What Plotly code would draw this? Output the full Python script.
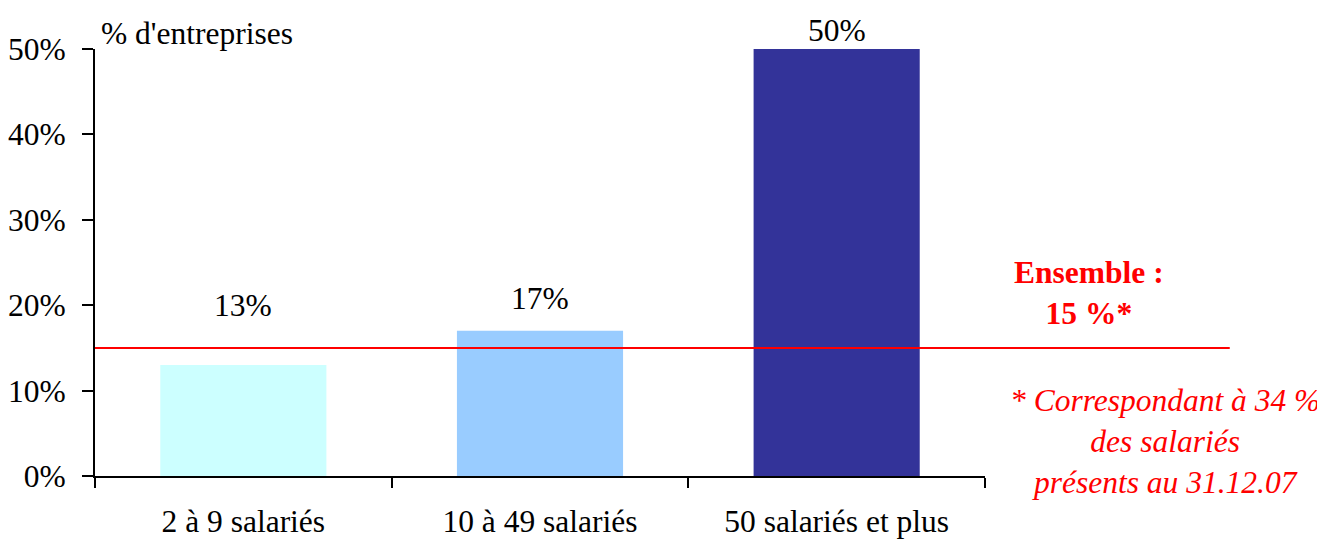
import plotly.graph_objects as go

categories = ["2 à 9 salariés", "10 à 49 salariés", "50 salariés et plus"]
values = [13, 17, 50]
bar_colors = ["#CCFFFF", "#99CCFF", "#333399"]
label_shift = [59, 32, 19]
ensemble = 15
y_ticks = [0, 10, 20, 30, 40, 50]
y_tick_labels = ["0%", "10%", "20%", "30%", "40%", "50%"]

FONT = "Liberation Serif, Times New Roman, serif"
FS = 31.5

fig = go.Figure()
fig.add_trace(go.Bar(
    x=categories, y=values, marker=dict(color=bar_colors, line=dict(width=0)),
    hoverinfo="skip", showlegend=False,
))

for c, v, s in zip(categories, values, label_shift):
    fig.add_annotation(x=c, y=v, text=f"{v}%", showarrow=False, yanchor="middle",
                       xanchor="center", yshift=s,
                       font=dict(family=FONT, size=FS, color="black"))

fig.add_shape(type="line", xref="paper", yref="y", x0=0, x1=1.275, y0=ensemble, y1=ensemble,
              line=dict(color="#FF0000", width=2), layer="above")

fig.add_annotation(xref="paper", yref="paper", x=0.0, y=1.0, text="% d'entreprises",
                   showarrow=False, xanchor="left", yanchor="middle", xshift=4, yshift=16,
                   font=dict(family=FONT, size=FS, color="black"))

fig.add_annotation(xref="paper", yref="y", x=1.117, y=ensemble, xanchor="center",
                   yanchor="middle", yshift=55,
                   text=f"<b>Ensemble :<br>{ensemble} %*</b>", showarrow=False,
                   font=dict(family=FONT, size=FS, color="#FF0000"), align="center")

fig.add_annotation(xref="paper", yref="paper", x=1.202, y=0.08, xanchor="center",
                   yanchor="middle",
                   text="<i>* Correspondant à 34 %<br>des salariés<br>présents au 31.12.07</i>",
                   showarrow=False, font=dict(family=FONT, size=FS, color="#FF0000"), align="center")

fig.update_layout(
    width=1317, height=531,
    margin=dict(l=87, r=340, t=41, b=63),
    plot_bgcolor="white", paper_bgcolor="white",
    bargap=0.44,
    font=dict(family=FONT, size=FS, color="black"),
)
fig.update_xaxes(showline=True, linecolor="black", linewidth=2, ticks="outside",
                 tickson="boundaries", ticklen=10, tickwidth=2, tickcolor="black",
                 ticklabelstandoff=16, showgrid=False, automargin=False,
                 tickfont=dict(family=FONT, size=FS, color="black"))
fig.update_yaxes(range=[0, 50], tickvals=y_ticks, ticktext=y_tick_labels,
                 showline=True, linecolor="black", linewidth=2, ticks="outside",
                 ticklen=11, tickwidth=2, tickcolor="black", showgrid=False, zeroline=False,
                 ticklabelstandoff=10, automargin=False,
                 tickfont=dict(family=FONT, size=FS, color="black"))

fig.write_html("out.html")
